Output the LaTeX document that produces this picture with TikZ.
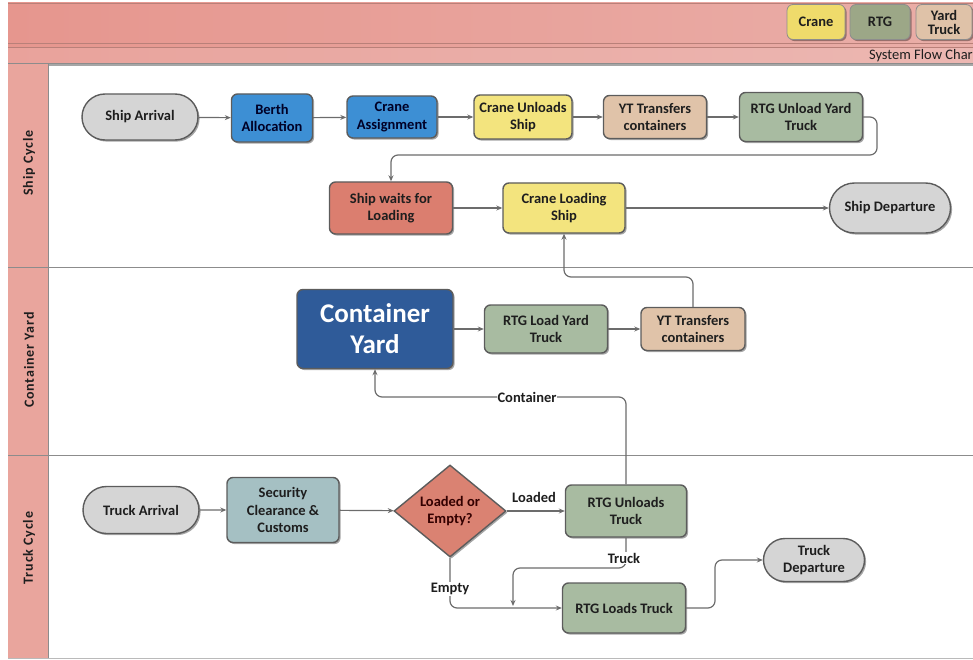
\documentclass[tikz,border=0pt]{standalone}
\usepackage{fontspec}
\setmainfont{Carlito}
\usetikzlibrary{shapes.misc,shapes.geometric,arrows.meta,shadows,calc}
\definecolor{hdrL}{HTML}{E6968E}
\definecolor{hdrR}{HTML}{EAAEA8}
\definecolor{hdrline}{HTML}{B98079}
\definecolor{lanecol}{HTML}{E9A59D}
\definecolor{laneline}{HTML}{8C8C8C}
\definecolor{bordr}{HTML}{5C5C5C}
\definecolor{linegray}{HTML}{6C6C6C}
\definecolor{cgrey}{HTML}{D5D5D5}
\definecolor{cblue}{HTML}{3D8FD4}
\definecolor{cyellow}{HTML}{F3E47E}
\definecolor{ctan}{HTML}{E0C3A9}
\definecolor{cgreen}{HTML}{A8BBA1}
\definecolor{cred}{HTML}{DB7E6F}
\definecolor{cnavy}{HTML}{2F5B99}
\definecolor{cseq}{HTML}{A5C0C3}
\definecolor{cdia}{HTML}{DA8272}
\definecolor{lcrane}{HTML}{EFDB6B}
\definecolor{lrtg}{HTML}{9CA787}
\definecolor{ltruck}{HTML}{DFC2A8}
\definecolor{txt}{HTML}{1E1E1E}
\tikzset{
  shade/.style={drop shadow={shadow xshift=1.6pt, shadow yshift=-1.6pt, opacity=0.35, fill=black}},
  boxtext/.style={font=\fontsize{14.5}{17.5}\selectfont\bfseries, text=txt, align=center},
  pbox/.style={rectangle, rounded corners=6pt, draw=bordr, line width=1.4pt, inner sep=1pt, shade, boxtext},
  stad/.style={rounded rectangle, draw=bordr, line width=1.4pt, fill=cgrey, inner sep=1pt, shade, boxtext},
  conn/.style={draw=linegray, line width=1.2pt, rounded corners=7pt, -{Stealth[length=6pt,width=5pt]}},
  lbl/.style={font=\fontsize{14.5}{16}\selectfont\bfseries, text=txt, fill=white, inner sep=1pt},
  lanelbl/.style={font=\fontsize{14}{15}\selectfont\bfseries\addfontfeature{LetterSpace=6}, text=txt, rotate=90},
  legend/.style={rectangle, rounded corners=6pt, draw=bordr!70, line width=0.8pt, inner sep=0pt, font=\fontsize{14.5}{15}\selectfont\bfseries, text=txt, align=center, shade}
}
\begin{document}
\begin{tikzpicture}[x=1pt,y=-1pt]
\useasboundingbox (0,0) rectangle (973,660);
% header
\shade[left color=hdrL, right color=hdrR] (8,3) rectangle (973,64);
\fill[white, opacity=0.12] (8,47) rectangle (973,64);
\draw[hdrline, line width=0.8pt] (8,3) -- (973,3);
\draw[hdrline, line width=0.8pt] (8,43) -- (973,43);
\draw[hdrline, line width=0.8pt] (8,47) -- (973,47);
\draw[laneline, line width=1pt] (8,64) -- (973,64);
\node[font=\fontsize{14.5}{15}\selectfont, text=txt, anchor=east, inner sep=0pt] (sfc) at (973,55.5) {System Flow Char};
% legend
\node[legend, fill=lcrane, minimum width=58pt, minimum height=35pt] (lg1) at (816,22) {Crane};
\node[legend, fill=lrtg, minimum width=60pt, minimum height=35pt] (lg2) at (880,22) {RTG};
\node[legend, fill=ltruck, minimum width=56pt, minimum height=35pt, font=\fontsize{14.5}{14}\selectfont\bfseries] (lg3) at (944,22) {Yard\\Truck};
% lanes
\fill[lanecol] (8,64) rectangle (48,658);
\draw[laneline, line width=1pt] (48,64) -- (48,658);
\draw[laneline, line width=1pt] (8,267) -- (973,267);
\draw[laneline, line width=1pt] (8,455) -- (973,455);
\draw[laneline!60, line width=0.8pt] (8,658) -- (973,658);
\node[lanelbl] (l1) at (29,163) {Ship Cycle};
\node[lanelbl] (l2) at (29,360) {Container Yard};
\node[lanelbl] (l3) at (29,548) {Truck Cycle};
% ship cycle
\node[stad, minimum width=118pt, minimum height=46pt] (sa) at (140,117) {Ship Arrival};
\node[pbox, fill=cblue, text=black!85!blue, minimum width=81pt, minimum height=48pt] (ba) at (272,118) {Berth\\Allocation};
\node[pbox, fill=cblue, text=black!85!blue, minimum width=90pt, minimum height=42pt] (ca) at (392,117) {Crane\\Assignment};
\node[pbox, fill=cyellow, minimum width=98pt, minimum height=44pt] (cu) at (523,117) {Crane Unloads\\Ship};
\node[pbox, fill=ctan, minimum width=103pt, minimum height=43pt] (yt1) at (655,117) {YT Transfers\\containers};
\node[pbox, fill=cgreen, minimum width=123pt, minimum height=49pt] (rtg1) at (801,117) {RTG Unload Yard\\Truck};
\node[pbox, fill=cred, minimum width=123pt, minimum height=52pt] (sw) at (391,208) {Ship waits for\\Loading};
\node[pbox, fill=cyellow, minimum width=122pt, minimum height=50pt] (cl) at (564,208) {Crane Loading\\Ship};
\node[stad, minimum width=123pt, minimum height=50pt] (sd) at (890,208) {Ship Departure};
% container yard
\node[pbox, fill=cnavy, text=white, minimum width=156pt, minimum height=79pt, font=\fontsize{27}{31}\selectfont\bfseries] (cy) at (375,329) {Container\\Yard};
\node[pbox, fill=cgreen, minimum width=123pt, minimum height=48pt] (rl) at (546,329) {RTG Load Yard\\Truck};
\node[pbox, fill=ctan, minimum width=104pt, minimum height=43pt] (yt2) at (693,329) {YT Transfers\\containers};
% truck cycle
\node[stad, minimum width=118pt, minimum height=47pt] (ta) at (141,510) {Truck Arrival};
\node[pbox, fill=cseq, minimum width=112pt, minimum height=65pt] (sc) at (283,510) {Security\\Clearance \&\\Customs};
\node[diamond, draw=bordr, line width=1.4pt, fill=cdia, inner sep=0pt, aspect=1.2, minimum width=112pt, minimum height=92pt, shade, boxtext, text=black!80!red] (dia) at (450,511) {Loaded or\\Empty?};
\node[pbox, fill=cgreen, minimum width=121pt, minimum height=52pt] (ru) at (626,511) {RTG Unloads\\Truck};
\node[pbox, fill=cgreen, minimum width=123pt, minimum height=50pt] (rlt) at (624,608) {RTG Loads Truck};
\node[stad, minimum width=103pt, minimum height=43pt] (td) at (814,560) {Truck\\Departure};
% connector coordinates
\coordinate (k1) at (877,155);
\coordinate (k2) at (620,277);
\coordinate (k3) at (500,397);
\coordinate (k4) at (560,568);
\coordinate (k5) at (513,606);
\coordinate (k6) at (715,585);
% ship cycle connectors
\draw[conn] (sa) -- (ba);
\draw[conn] (ba) -- (ca);
\draw[conn] (ca) -- (cu);
\draw[conn] (cu) -- (yt1);
\draw[conn] (yt1) -- (rtg1);
\draw[conn] (rtg1.east) -| (k1) -| (sw.north);
\draw[conn] (sw) -- (cl);
\draw[conn] (cl) -- (sd);
% container yard connectors
\draw[conn] (cy) -- (rl);
\draw[conn] (rl) -- (yt2);
\draw[conn] (yt2.north) |- (k2) -| (cl.south);
\draw[conn] (ru.north) |- (k3) -| (cy.south);
\node[lbl] (clbl) at (527,397) {Container};
% truck cycle connectors
\draw[conn] (ta) -- (sc);
\draw[conn] (sc) -- (dia);
\draw[conn] (dia) -- (ru);
\node[lbl, fill=none] (ldl) at (534,497) {Loaded};
\draw[conn] (dia.south) |- (rlt.west);
\node[lbl] (eml) at (450,589) {Empty};
\draw[conn] (ru.south) |- (k4) -| (k5);
\node[lbl] (trl) at (624,558) {Truck};
\draw[conn] (rlt.east) -| (k6) |- (td.west);
\end{tikzpicture}
\end{document}
